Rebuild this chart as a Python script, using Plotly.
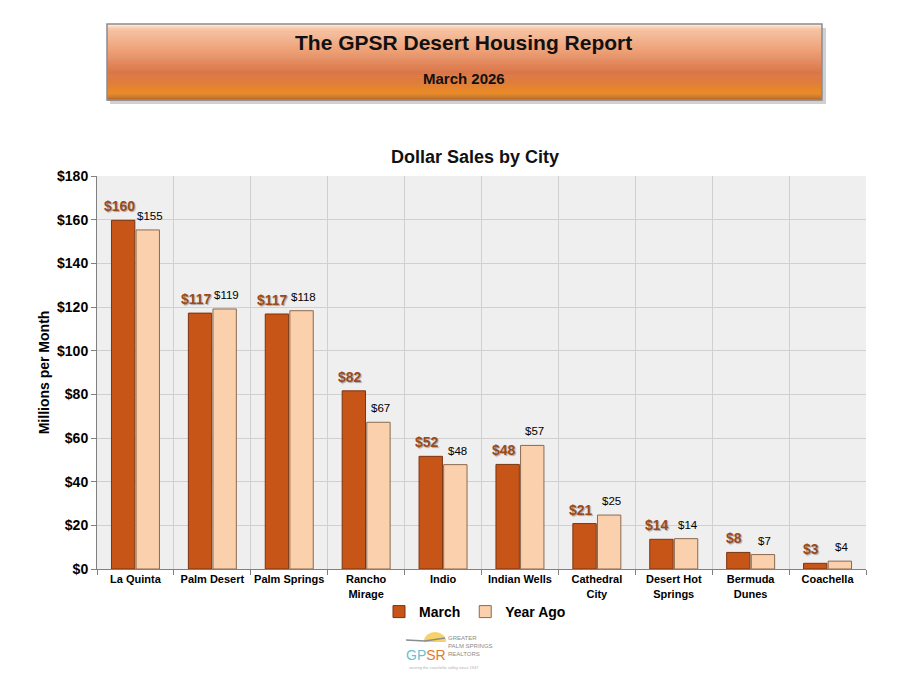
import plotly.graph_objects as go

cities = ["La Quinta", "Palm Desert", "Palm Springs", "Rancho<br>Mirage", "Indio",
          "Indian Wells", "Cathedral<br>City", "Desert Hot<br>Springs", "Bermuda<br>Dunes", "Coachella"]
march = [159.7, 117.2, 116.8, 81.6, 51.6, 47.9, 20.8, 13.6, 7.6, 2.6]
year_ago = [155.3, 119.1, 118.3, 67.2, 47.8, 56.6, 24.7, 13.9, 6.6, 3.6]
y_ticks = [0, 20, 40, 60, 80, 100, 120, 140, 160, 180]

FONT = "Liberation Sans Narrow, Arial Narrow, Liberation Sans, Arial"

# page offset (browser body margin) compensation
OFF = 8
PL, PT, PW, PH = 97 - OFF, 176 - OFF, 769, 393
BARGAP = 0.36


def px(x):
    return (x - 97) / PW


def py(y):
    return (569 - y) / PH


fig = go.Figure()
fig.add_trace(go.Bar(
    x=cities, y=march, name="March",
    marker=dict(color="#c85518", line=dict(color="#7a3410", width=1)),
))
fig.add_trace(go.Bar(
    x=cities, y=year_ago, name="Year Ago",
    marker=dict(color="#fbd0ac", line=dict(color="#8a6a50", width=1)),
))

# value labels, nudged apart like the original
half = PW / len(cities) * (1 - BARGAP) / 4
for c, m, ya in zip(cities, march, year_ago):
    fig.add_annotation(x=c, y=m, text=f"<b>${m:.0f}</b>", showarrow=False, xanchor="center",
                       yanchor="bottom", xshift=-half - 4, yshift=4,
                       font=dict(family=FONT, size=14, color="#9a4a1c",
                                 shadow="1px 1px 1px rgba(0,0,0,0.3)"))
    fig.add_annotation(x=c, y=ya, text=f"${ya:.0f}", showarrow=False, xanchor="center",
                       yanchor="bottom", xshift=half + 2, yshift=6,
                       font=dict(family=FONT, size=11.5, color="#000000"))

# header banner with vertical gradient (stacked strips)
stops = [(0.00, (252, 232, 212)), (0.06, (246, 196, 164)), (0.35, (238, 160, 118)),
         (0.65, (218, 118, 72)), (0.80, (226, 128, 56)), (0.92, (236, 140, 36)), (1.00, (190, 110, 40))]
top, bot = 24, 100
n = 40
fig.add_shape(type="rect", xref="paper", yref="paper",
              x0=px(110), x1=px(826), y0=py(104), y1=py(28),
              fillcolor="rgba(120,120,120,0.35)", line_width=0, layer="above")
for i in range(n):
    f = i / (n - 1)
    for j in range(len(stops) - 1):
        if stops[j][0] <= f <= stops[j + 1][0]:
            a, ca = stops[j]
            b, cb = stops[j + 1]
            t = (f - a) / (b - a) if b > a else 0
            col = tuple(int(ca[k] + (cb[k] - ca[k]) * t) for k in range(3))
            break
    y0 = top + (bot - top) * i / n
    y1 = top + (bot - top) * (i + 1) / n + 0.5
    fig.add_shape(type="rect", xref="paper", yref="paper",
                  x0=px(107), x1=px(822), y0=py(y1), y1=py(y0),
                  fillcolor=f"rgb{col}", line_width=0, layer="above")
fig.add_shape(type="rect", xref="paper", yref="paper",
              x0=px(107), x1=px(822), y0=py(100), y1=py(24),
              fillcolor="rgba(0,0,0,0)", line=dict(color="#8a8a92", width=1.5), layer="above")

fig.add_annotation(text="<b>The GPSR Desert Housing Report</b>", xref="paper", yref="paper",
                   x=px(463), y=py(43), xanchor="center", yanchor="middle", showarrow=False,
                   font=dict(family=FONT, size=21, color="#111111"))
fig.add_annotation(text="<b>March 2026</b>", xref="paper", yref="paper",
                   x=px(464), y=py(78), xanchor="center", yanchor="middle", showarrow=False,
                   font=dict(family=FONT, size=15, color="#111111"))

# logo approximation
fig.add_shape(type="circle", xref="paper", yref="paper",
              x0=px(424), x1=px(446), y0=py(650), y1=py(632),
              fillcolor="#f6d36a", line_width=0, layer="above")
fig.add_shape(type="rect", xref="paper", yref="paper",
              x0=px(420), x1=px(450), y0=py(652), y1=py(642),
              fillcolor="white", line_width=0, layer="above")
fig.add_shape(type="path", xref="paper", yref="paper",
              path=f"M {px(406)} {py(640)} L {px(425)} {py(641)} L {px(445)} {py(638)}",
              line=dict(color="#8c8c8c", width=1.5), layer="above")
fig.add_annotation(text="<span style='color:#6cbfd0'>GP</span><span style='color:#e8782a'>SR</span>",
                   xref="paper", yref="paper", x=px(426), y=py(655),
                   xanchor="center", yanchor="middle", showarrow=False,
                   font=dict(family="Liberation Sans", size=14, color="#6cbfd0"))
fig.add_annotation(text="GREATER<br>PALM SPRINGS<br>REALTORS", xref="paper", yref="paper",
                   x=px(446), y=py(646), xanchor="left", yanchor="middle", showarrow=False, align="left",
                   font=dict(family="Liberation Sans", size=6, color="#8a8a8a"))
fig.add_annotation(text="serving the coachella valley since 1947", xref="paper", yref="paper",
                   x=px(444), y=py(667), xanchor="center", yanchor="middle", showarrow=False,
                   font=dict(family="Liberation Sans", size=4, color="#b0b0b0"))

fig.update_layout(
    width=919, height=676,
    margin=dict(l=PL, r=919 - PL - PW, t=PT, b=676 - PT - PH),
    paper_bgcolor="white", plot_bgcolor="#efefef",
    barmode="group", bargap=BARGAP, bargroupgap=0.05,
    title=dict(text="<b>Dollar Sales by City</b>", x=(475 - OFF) / 919, xanchor="center",
               y=1 - (157 - OFF) / 676, yanchor="middle",
               font=dict(family=FONT, size=18, color="#111111")),
    font=dict(family=FONT, color="#000000"),
    showlegend=True,
    legend=dict(orientation="h", x=px(475), xanchor="center", y=py(612), yanchor="middle",
                font=dict(family=FONT, size=14, color="#000000", weight="bold"),
                traceorder="normal", bgcolor="rgba(0,0,0,0)"),
    xaxis=dict(showgrid=True, gridcolor="#d0d0d0", tickson="boundaries", ticks="outside", ticklen=5,
               tickcolor="#808080", showline=True, linecolor="#808080", tickangle=0,
               tickfont=dict(family=FONT, size=11, color="#000000", weight="bold")),
    yaxis=dict(range=[0, 180], tickvals=y_ticks, ticktext=[f"${v}" for v in y_ticks],
               showgrid=True, gridcolor="#d0d0d0", ticks="outside", ticklen=5, tickcolor="#808080",
               showline=True, linecolor="#808080", zeroline=False,
               tickfont=dict(family=FONT, size=14, color="#000000", weight="bold"),
               title=dict(text="<b>Millions per Month</b>", standoff=4,
                          font=dict(family=FONT, size=14, color="#000000"))),
)

fig.write_html("out.html")
